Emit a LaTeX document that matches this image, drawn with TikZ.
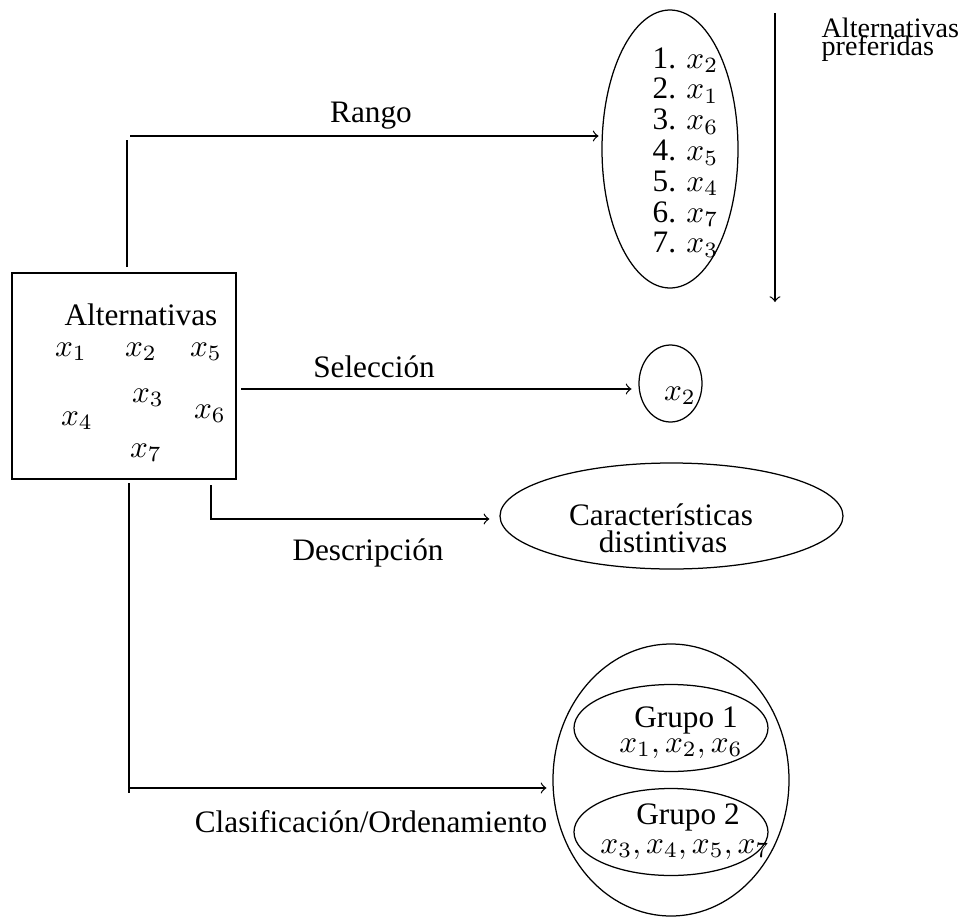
\documentclass[tikz,border=0pt]{standalone}
\usepackage[no-math]{fontspec}
\setmainfont{Liberation Serif}
\usetikzlibrary{shapes.geometric}
\tikzset{
  conn/.style={line width=0.4pt},
  arr/.style={conn,->},
  lbl/.style={anchor=base,inner sep=0pt,font=\fontsize{10}{12}\selectfont},
  lblw/.style={anchor=base west,inner sep=0pt,font=\fontsize{10}{12}\selectfont},
  smallw/.style={anchor=base west,inner sep=0pt,font=\fontsize{9}{10}\selectfont},
  oval/.style={draw,ellipse,inner sep=0pt,line width=0.4pt},
  boxed/.style={draw,rectangle,inner sep=0pt,line width=0.4pt}
}
\begin{document}
\begin{tikzpicture}[x=0.32pt,y=-0.32pt]
\useasboundingbox (0,0) rectangle (961,918);
% main box
\node[boxed,minimum width=224*0.32pt,minimum height=206*0.32pt] (alt) at (124,376) {};
\node[lbl] (altt) at (141,325) {Alternativas};
\node[lbl] (a1) at (71,356) {$x_1$};
\node[lbl] (a2) at (141,356) {$x_2$};
\node[lbl] (a5) at (206,356) {$x_5$};
\node[lbl] (a3) at (148,402) {$x_3$};
\node[lbl] (a6) at (210,418) {$x_6$};
\node[lbl] (a4) at (77,425) {$x_4$};
\node[lbl] (a7) at (146,457) {$x_7$};
% rango ellipse
\node[oval,minimum width=136*0.32pt,minimum height=278*0.32pt] (rango) at (670,149) {};
\node[lblw] (r1t) at (652,68) {1. $x_2$};
\node[lblw] (r2t) at (652,98.8) {2. $x_1$};
\node[lblw] (r3t) at (652,129.6) {3. $x_6$};
\node[lblw] (r4t) at (652,160.4) {4. $x_5$};
\node[lblw] (r5t) at (652,191.2) {5. $x_4$};
\node[lblw] (r6t) at (652,222) {6. $x_7$};
\node[lblw] (r7t) at (652,252.8) {7. $x_3$};
% preference arrow
\coordinate (p1) at (775,13);
\coordinate (p2) at (775,302);
\draw[arr] (p1) -- (p2);
\node[smallw] (pref1) at (821,37) {Alternativas};
\node[smallw] (pref2) at (821,55) {preferidas};
% seleccion
\node[oval,minimum width=63*0.32pt,minimum height=77*0.32pt] (sel) at (670.5,383.5) {};
\node[lbl] (selx) at (680,400) {$x_2$};
% descripcion ellipse
\node[oval,minimum width=343*0.32pt,minimum height=106*0.32pt] (desc) at (671.5,516) {};
\node[lbl] (desc1) at (661,525) {Características};
\node[lbl] (desc2) at (663,552) {distintivas};
% clasificacion ellipses
\node[oval,minimum width=236*0.32pt,minimum height=272*0.32pt] (cla) at (671,780) {};
\node[oval,minimum width=194*0.32pt,minimum height=87*0.32pt] (g1) at (671,728) {};
\node[oval,minimum width=194*0.32pt,minimum height=87*0.32pt] (g2) at (671,832) {};
\node[lbl] (g1a) at (686,727) {Grupo 1};
\node[lbl] (g1b) at (681,752) {$x_1, x_2, x_6$};
\node[lbl] (g2a) at (688,824) {Grupo 2};
\node[lbl] (g2b) at (685,853) {$x_3, x_4, x_5, x_7$};
% connectors
% Rango
\coordinate (rv1) at (127,267);
\coordinate (rv2) at (127,140);
\coordinate (rh) at (130,136);
\draw[conn] (rv1) -- (rv2);
\draw[arr,shorten >=0.9pt] (rh) -- (rh -| rango.west);
\node[lbl] (rl) at (371,122) {Rango};
% Seleccion
\coordinate (s1) at (241,389);
\draw[arr,shorten >=2.2pt] (s1) -- (s1 -| sel.west);
\node[lbl] (sl) at (374,377) {Selección};
% Descripcion
\coordinate (d1) at (211,485);
\coordinate (d2) at (211,519);
\draw[arr,shorten >=3.2pt] (d1) -- (d2) -- (d2 -| desc.west);
\node[lbl] (dl) at (368,560) {Descripción};
% Clasificacion
\coordinate (c1) at (129,483);
\coordinate (c2) at (129,793);
\coordinate (c3) at (129,788);
\draw[conn] (c1) -- (c2);
\draw[arr,shorten >=1.9pt] (c3) -- (c3 -| cla.west);
\node[lbl] (cl) at (371,832) {Clasificación/Ordenamiento};
\end{tikzpicture}
\end{document}
